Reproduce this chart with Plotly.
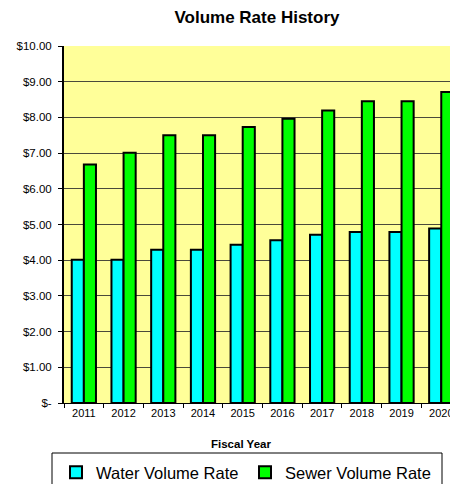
import plotly.graph_objects as go

years = ["2011", "2012", "2013", "2014", "2015", "2016", "2017", "2018", "2019", "2020"]
water_rate = [4.01, 4.01, 4.29, 4.29, 4.43, 4.56, 4.71, 4.79, 4.79, 4.89]
sewer_rate = [6.68, 7.01, 7.50, 7.50, 7.73, 7.96, 8.19, 8.45, 8.45, 8.71]
y_tick_vals = [0, 1, 2, 3, 4, 5, 6, 7, 8, 9, 10]
y_tick_text = ["$-", "$1.00", "$2.00", "$3.00", "$4.00", "$5.00", "$6.00", "$7.00", "$8.00", "$9.00", "$10.00"]

FONT = "Liberation Sans, Arial, sans-serif"

fig = go.Figure()
fig.add_trace(go.Bar(x=years, y=water_rate, name="Water Volume Rate",
                     marker=dict(color="#00FFFF", line=dict(color="black", width=2))))
fig.add_trace(go.Bar(x=years, y=sewer_rate, name="Sewer Volume Rate",
                     marker=dict(color="#00FF00", line=dict(color="black", width=2))))

fig.update_layout(
    width=450, height=484,
    margin=dict(l=64, r=0, t=46, b=81, autoexpand=False),
    paper_bgcolor="white",
    plot_bgcolor="#FFFF99",
    barmode="group", bargap=0.39, bargroupgap=0,
    font=dict(family=FONT, color="black", size=11),
    title=dict(text="<b>Volume Rate History</b>", x=257/450, xanchor="center",
               y=1 - 17/484, yanchor="middle", font=dict(size=17, family=FONT)),
    showlegend=True,
    legend=dict(orientation="h", x=(56 - 64) / 386, xanchor="left",
                y=(403 - 455) / 357, yanchor="top",
                borderwidth=0, bgcolor="rgba(0,0,0,0)",
                font=dict(size=16.5, family=FONT), entrywidth=144),
)

# legend frame (extends past the bottom edge as in the reference)
fig.add_shape(type="rect", xref="paper", yref="paper",
              x0=(52 - 64) / 386, x1=(442 - 64) / 386,
              y0=(403 - 453) / 357, y1=(403 - 500) / 357,
              line=dict(color="black", width=1), fillcolor="white", layer="below")

fig.update_xaxes(
    type="category", range=[-0.5, 9.22],
    showline=True, linecolor="black", linewidth=1,
    ticks="outside", tickson="boundaries", ticklen=4, tickcolor="black",
    tickfont=dict(size=11), showgrid=False, zeroline=False,
)
fig.update_yaxes(
    range=[0, 10], tickvals=y_tick_vals, ticktext=y_tick_text,
    showline=True, linecolor="black", linewidth=2,
    ticks="outside", ticklen=4, tickcolor="black",
    showgrid=True, gridcolor="#4a4a3a", gridwidth=1, zeroline=False,
    tickfont=dict(size=11.5), ticklabelstandoff=4,
)

fig.add_annotation(text="<b>Fiscal Year</b>", x=(241 - 64) / 386, xref="paper",
                   y=(403 - 444) / 357, yref="paper", showarrow=False,
                   font=dict(size=11.5, family=FONT), xanchor="center", yanchor="middle")

fig.write_html("out.html", config={"displayModeBar": False},
               post_script="document.body.style.margin='0';")
